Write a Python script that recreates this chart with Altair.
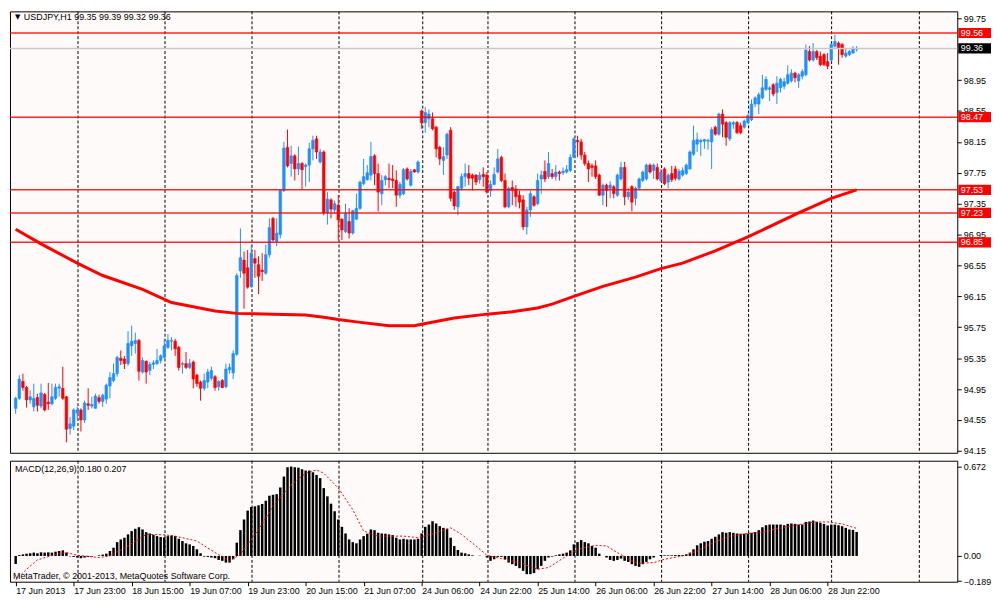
import altair as alt
import pandas as pd

# ---------------- data ----------------
opens = [94.70, 94.83, 95.05, 94.97, 94.81, 94.72, 94.84, 94.73, 94.88, 94.78,
         94.76, 94.83, 94.96, 94.96, 94.85, 94.44, 94.47, 94.64, 94.68, 94.55,
         94.76, 94.73, 94.70, 94.84, 94.79, 94.82, 94.99, 95.06, 95.15, 95.35,
         95.34, 95.28, 95.51, 95.54, 95.58, 95.17, 95.31, 95.19, 95.27, 95.28,
         95.32, 95.36, 95.49, 95.57, 95.57, 95.49, 95.27, 95.28, 95.23, 95.30,
         95.13, 95.04, 94.96, 95.04, 95.09, 95.11, 94.98, 95.06, 94.98, 95.20,
         95.16, 95.40, 96.48, 96.62, 96.52, 96.28, 96.64, 96.56, 96.49, 96.45,
         96.69, 97.16, 96.86, 96.95, 97.52, 98.08, 97.87, 97.97, 97.80, 97.87,
         97.83, 97.85, 98.06, 98.19, 97.89, 98.02, 97.23, 97.40, 97.27, 97.33,
         97.15, 96.99, 97.12, 96.97, 97.15, 97.29, 97.61, 97.66, 97.72, 97.97,
         97.74, 97.48, 97.66, 97.68, 97.67, 97.65, 97.46, 97.48, 97.80, 97.59,
         97.79, 97.76, 98.55, 98.40, 98.45, 98.45, 98.34, 98.08, 97.91, 97.98,
         98.30, 97.50, 97.31, 97.55, 97.70, 97.74, 97.72, 97.72, 97.66, 97.73,
         97.72, 97.52, 97.60, 97.76, 97.95, 97.65, 97.31, 97.56, 97.54, 97.46,
         97.40, 97.05, 97.27, 97.44, 97.35, 97.67, 97.77, 97.70, 97.74, 97.70,
         97.76, 97.75, 97.76, 97.78, 97.95, 98.17, 98.15, 97.98, 97.87, 97.84,
         97.84, 97.72, 97.46, 97.59, 97.55, 97.57, 97.46, 97.67, 97.82, 97.44,
         97.57, 97.42, 97.55, 97.65, 97.67, 97.85, 97.78, 97.82, 97.65, 97.80,
         97.63, 97.74, 97.80, 97.67, 97.72, 97.74, 97.80, 97.99, 98.12, 98.15,
         98.16, 98.16, 98.15, 98.34, 98.25, 98.51, 98.40, 98.19, 98.38, 98.40,
         98.36, 98.34, 98.40, 98.44, 98.64, 98.64, 98.72, 98.83, 98.83, 98.89,
         98.79, 98.85, 98.87, 98.91, 98.94, 99.04, 98.94, 99.00, 99.02, 99.32,
         99.21, 99.32, 99.26, 99.28, 99.19, 99.21, 99.39, 99.43, 99.41, 99.26,
         99.28, 99.30, 99.35]

highs = [94.85, 95.13, 95.15, 94.99, 94.93, 95.02, 94.89, 95.02, 94.90, 95.03,
         95.02, 95.02, 95.02, 95.24, 94.86, 94.59, 94.70, 94.72, 94.70, 94.80,
         94.96, 94.85, 94.89, 94.88, 94.89, 95.02, 95.17, 95.28, 95.38, 95.45,
         95.38, 95.70, 95.77, 95.68, 95.60, 95.36, 95.32, 95.30, 95.32, 95.47,
         95.40, 95.60, 95.66, 95.62, 95.60, 95.51, 95.30, 95.43, 95.34, 95.32,
         95.15, 95.06, 95.15, 95.21, 95.24, 95.13, 95.06, 95.08, 95.28, 95.28,
         95.45, 96.45, 97.03, 96.73, 96.75, 96.82, 96.75, 96.67, 96.71, 96.82,
         97.16, 97.18, 97.16, 97.54, 98.15, 98.31, 98.10, 97.99, 98.09, 97.89,
         97.87, 98.14, 98.23, 98.23, 98.06, 98.04, 97.50, 97.42, 97.39, 97.46,
         97.16, 97.35, 97.29, 97.27, 97.48, 97.65, 97.93, 97.85, 98.15, 97.99,
         97.87, 97.72, 97.72, 97.87, 97.85, 97.78, 97.63, 97.81, 97.82, 97.80,
         97.80, 97.91, 98.57, 98.60, 98.57, 98.53, 98.36, 98.10, 98.08, 98.27,
         98.34, 97.52, 97.58, 97.74, 97.87, 97.85, 97.74, 97.73, 97.76, 97.82,
         97.76, 97.65, 97.82, 98.06, 97.97, 97.74, 97.57, 97.65, 97.59, 97.52,
         97.46, 97.31, 97.52, 97.46, 97.74, 97.78, 97.91, 98.02, 97.80, 97.85,
         97.78, 97.82, 97.85, 97.99, 98.21, 98.23, 98.19, 98.02, 97.91, 97.87,
         97.91, 97.74, 97.61, 97.61, 97.64, 97.59, 97.74, 97.89, 97.89, 97.55,
         97.59, 97.57, 97.69, 97.78, 97.87, 97.87, 97.87, 97.87, 97.80, 97.82,
         97.74, 97.84, 97.84, 97.80, 97.82, 97.87, 98.04, 98.36, 98.27, 98.19,
         98.19, 98.19, 98.34, 98.36, 98.53, 98.57, 98.42, 98.42, 98.42, 98.42,
         98.40, 98.44, 98.51, 98.70, 98.74, 98.79, 99.02, 99.00, 98.87, 98.91,
         99.00, 98.98, 98.98, 99.14, 99.09, 99.06, 99.04, 99.09, 99.41, 99.39,
         99.43, 99.34, 99.32, 99.30, 99.30, 99.43, 99.54, 99.45, 99.43, 99.36,
         99.34, 99.39, 99.39]

lows = [94.63, 94.81, 94.93, 94.71, 94.76, 94.66, 94.66, 94.70, 94.66, 94.68,
        94.74, 94.81, 94.85, 94.81, 94.26, 94.36, 94.42, 94.55, 94.40, 94.51,
        94.68, 94.70, 94.70, 94.76, 94.72, 94.76, 94.83, 95.04, 95.11, 95.26,
        95.21, 95.25, 95.38, 95.41, 95.06, 95.15, 95.02, 95.13, 95.21, 95.26,
        95.28, 95.34, 95.47, 95.45, 95.38, 95.19, 95.15, 95.21, 95.21, 94.96,
        94.98, 94.80, 94.93, 94.96, 95.06, 94.93, 94.93, 94.96, 94.96, 95.15,
        95.08, 95.38, 96.39, 95.99, 96.25, 96.26, 96.39, 96.18, 96.35, 96.43,
        96.65, 96.86, 96.80, 96.90, 97.50, 97.82, 97.70, 97.65, 97.72, 97.53,
        97.57, 97.63, 97.91, 97.93, 97.87, 97.20, 97.08, 97.16, 97.22, 96.88,
        96.88, 96.97, 96.90, 96.95, 97.14, 97.27, 97.59, 97.65, 97.65, 97.59,
        97.25, 97.33, 97.59, 97.55, 97.55, 97.31, 97.42, 97.46, 97.65, 97.57,
        97.75, 97.74, 98.32, 98.27, 98.34, 98.30, 97.95, 97.85, 97.72, 97.93,
        97.38, 97.27, 97.20, 97.52, 97.57, 97.59, 97.52, 97.59, 97.61, 97.57,
        97.48, 97.44, 97.59, 97.74, 97.63, 97.29, 97.29, 97.33, 97.31, 97.29,
        97.01, 96.95, 97.18, 97.31, 97.33, 97.48, 97.63, 97.67, 97.67, 97.65,
        97.65, 97.72, 97.74, 97.76, 97.94, 97.95, 97.92, 97.84, 97.63, 97.70,
        97.67, 97.45, 97.33, 97.31, 97.42, 97.42, 97.44, 97.65, 97.33, 97.40,
        97.25, 97.33, 97.53, 97.63, 97.65, 97.74, 97.67, 97.65, 97.63, 97.59,
        97.55, 97.63, 97.65, 97.65, 97.70, 97.72, 97.79, 97.97, 98.02, 97.97,
        98.06, 98.05, 97.80, 98.23, 98.23, 98.21, 98.10, 98.16, 98.32, 98.25,
        98.25, 98.32, 98.38, 98.42, 98.60, 98.51, 98.70, 98.81, 98.68, 98.74,
        98.64, 98.79, 98.83, 98.89, 98.92, 98.92, 98.85, 98.96, 99.00, 99.19,
        99.19, 99.21, 99.13, 99.13, 99.09, 99.19, 99.37, 99.15, 99.24, 99.24,
        99.26, 99.29, 99.32]

closes = [94.83, 95.08, 94.97, 94.81, 94.85, 94.83, 94.74, 94.90, 94.68, 94.76,
          94.85, 94.97, 94.98, 94.83, 94.43, 94.50, 94.68, 94.68, 94.55, 94.77,
          94.74, 94.75, 94.86, 94.79, 94.87, 95.00, 95.10, 95.15, 95.36, 95.32,
          95.28, 95.54, 95.57, 95.58, 95.18, 95.32, 95.17, 95.27, 95.29, 95.32,
          95.38, 95.51, 95.58, 95.58, 95.47, 95.23, 95.28, 95.23, 95.28, 95.08,
          95.02, 94.96, 95.06, 95.17, 95.19, 94.97, 95.05, 94.97, 95.21, 95.23,
          95.41, 96.42, 96.65, 96.45, 96.27, 96.71, 96.58, 96.41, 96.47, 96.69,
          97.04, 96.88, 96.97, 97.52, 98.07, 97.84, 97.97, 97.80, 97.87, 97.79,
          97.85, 98.06, 98.17, 98.02, 98.02, 97.23, 97.41, 97.28, 97.35, 97.14,
          97.01, 97.23, 96.97, 97.26, 97.29, 97.63, 97.70, 97.75, 97.96, 97.74,
          97.50, 97.65, 97.70, 97.66, 97.65, 97.46, 97.60, 97.79, 97.67, 97.77,
          97.76, 97.89, 98.40, 98.53, 98.51, 98.32, 98.06, 97.93, 97.96, 98.25,
          97.42, 97.32, 97.57, 97.70, 97.74, 97.68, 97.68, 97.63, 97.72, 97.70,
          97.50, 97.60, 97.73, 97.93, 97.65, 97.31, 97.55, 97.52, 97.44, 97.37,
          97.05, 97.27, 97.48, 97.33, 97.65, 97.72, 97.67, 97.87, 97.70, 97.76,
          97.74, 97.77, 97.79, 97.95, 98.19, 98.15, 97.98, 97.87, 97.80, 97.82,
          97.70, 97.46, 97.59, 97.52, 97.59, 97.48, 97.72, 97.82, 97.44, 97.50,
          97.37, 97.55, 97.67, 97.76, 97.85, 97.76, 97.85, 97.67, 97.76, 97.61,
          97.72, 97.66, 97.68, 97.77, 97.78, 97.85, 98.02, 98.17, 98.18, 98.17,
          98.18, 98.17, 98.31, 98.25, 98.51, 98.38, 98.21, 98.40, 98.40, 98.27,
          98.27, 98.42, 98.49, 98.64, 98.72, 98.76, 98.85, 98.96, 98.85, 98.77,
          98.91, 98.96, 98.93, 99.02, 99.04, 98.98, 99.02, 99.06, 99.34, 99.21,
          99.32, 99.24, 99.15, 99.15, 99.13, 99.41, 99.45, 99.36, 99.28, 99.30,
          99.32, 99.36, 99.36]

macd = [-0.060, 0.007, 0.012, 0.017, 0.020, 0.025, 0.020, 0.027, 0.025, 0.027,
        0.025, 0.032, 0.037, 0.042, 0.025, -0.003, -0.007, -0.012, -0.017, -0.012,
        -0.007, -0.005, 0.000, 0.005, 0.010, 0.017, 0.037, 0.062, 0.104, 0.124,
        0.137, 0.162, 0.187, 0.204, 0.216, 0.199, 0.179, 0.169, 0.159, 0.149,
        0.142, 0.139, 0.149, 0.154, 0.149, 0.129, 0.112, 0.095, 0.087, 0.075,
        0.050, 0.020, -0.005, -0.007, -0.012, -0.017, -0.030, -0.037, -0.050, -0.050,
        -0.025, 0.100, 0.194, 0.274, 0.341, 0.368, 0.373, 0.381, 0.391, 0.415,
        0.453, 0.460, 0.465, 0.515, 0.597, 0.667, 0.672, 0.667, 0.664, 0.652,
        0.642, 0.642, 0.629, 0.609, 0.585, 0.510, 0.448, 0.393, 0.336, 0.274,
        0.219, 0.169, 0.124, 0.104, 0.095, 0.124, 0.149, 0.167, 0.199, 0.194,
        0.174, 0.169, 0.167, 0.162, 0.157, 0.137, 0.124, 0.129, 0.124, 0.124,
        0.124, 0.129, 0.169, 0.219, 0.236, 0.261, 0.244, 0.224, 0.211, 0.204,
        0.137, 0.075, 0.045, 0.025, 0.020, 0.012, 0.005, 0.000, 0.002, 0.000,
        -0.012, -0.037, -0.025, -0.007, -0.007, -0.025, -0.050, -0.062, -0.075, -0.092,
        -0.112, -0.137, -0.137, -0.129, -0.100, -0.075, -0.037, -0.012, -0.005, 0.005,
        0.012, 0.017, 0.025, 0.042, 0.087, 0.104, 0.119, 0.104, 0.095, 0.075,
        0.062, 0.017, 0.000, -0.012, -0.030, -0.037, -0.030, -0.020, -0.037, -0.045,
        -0.062, -0.075, -0.082, -0.062, -0.045, -0.025, -0.012, 0.000, 0.007, 0.005,
        0.005, 0.005, 0.007, 0.007, 0.007, 0.012, 0.025, 0.050, 0.080, 0.095,
        0.107, 0.112, 0.129, 0.144, 0.162, 0.179, 0.174, 0.179, 0.174, 0.169,
        0.167, 0.167, 0.169, 0.174, 0.179, 0.194, 0.216, 0.231, 0.236, 0.236,
        0.236, 0.236, 0.231, 0.241, 0.244, 0.241, 0.236, 0.236, 0.256, 0.259,
        0.266, 0.256, 0.249, 0.241, 0.229, 0.236, 0.236, 0.231, 0.224, 0.211,
        0.199, 0.196, 0.180]

sig_idx = [0, 3, 6, 11, 14, 17, 23, 26, 31, 36, 41, 44, 50, 55, 59, 62, 67, 71, 76, 80,
           83, 85, 89, 93, 96, 100, 107, 111, 116, 120, 123, 127, 130, 134, 139, 144, 147,
           152, 155, 160, 163, 166, 170, 172, 176, 179, 184, 188, 192, 197, 202, 206, 210,
           215, 220, 224, 228, 232]
sig_val = [-0.180, -0.100, -0.030, 0.012, 0.025, 0.005, -0.012, 0.000, 0.075, 0.162,
           0.159, 0.149, 0.112, 0.025, -0.037, 0.012, 0.199, 0.373, 0.535, 0.622,
           0.647, 0.622, 0.510, 0.348, 0.187, 0.149, 0.149, 0.137, 0.174, 0.211,
           0.162, 0.075, 0.005, -0.020, -0.050, -0.100, -0.087, 0.000, 0.050, 0.080,
           0.075, 0.025, -0.037, -0.055, -0.050, -0.025, 0.000, 0.037, 0.095, 0.149,
           0.169, 0.179, 0.204, 0.231, 0.254, 0.256, 0.241, 0.207]

ma_idx = [0, 7, 17, 24, 35, 43, 55, 61, 71, 80, 85, 89, 94, 103, 110, 112, 121, 130,
          137, 144, 148, 154, 162, 171, 178, 184, 193, 202, 216, 225, 232]
ma_val = [97.02, 96.83, 96.58, 96.42, 96.24, 96.07, 95.96, 95.93, 95.92, 95.91, 95.88,
          95.85, 95.82, 95.77, 95.77, 95.79, 95.87, 95.92, 95.95, 96.00, 96.05, 96.15,
          96.28, 96.40, 96.51, 96.58, 96.74, 96.92, 97.23, 97.42, 97.53]

levels = [99.56, 98.47, 97.53, 97.23, 96.85]
bid = [99.36]
grid_idx = [17.2, 41.2, 65.2, 89.2, 112.3, 130.3, 154.3, 178.2, 202.2, 225.1, 249.3]
date_idx = [0, 16, 32, 48, 64, 80, 96, 112, 128, 144, 160, 176, 192, 208, 224]
date_labels = ["17 Jun 2013", "17 Jun 23:00", "18 Jun 15:00", "19 Jun 07:00", "19 Jun 23:00",
               "20 Jun 15:00", "21 Jun 07:00", "24 Jun 06:00", "24 Jun 22:00", "25 Jun 14:00",
               "26 Jun 06:00", "26 Jun 22:00", "27 Jun 14:00", "28 Jun 06:00", "28 Jun 22:00"]
# 99.35 sits fully under the 99.36 price box in the reference, so it is not shown
price_ticks = [94.15, 94.55, 94.95, 95.35, 95.75, 96.15, 96.55, 96.95, 97.35, 97.75,
               98.15, 98.55, 98.95, 99.75]
macd_ticks = [-0.189, 0.0, 0.672]
title_str = "USDJPY,H1  99.35 99.39 99.32 99.36"
macd_str = "MACD(12,26,9) 0.180 0.207"
copy_str = "MetaTrader, \u00a9 2001-2013, MetaQuotes Software Corp."

# ---------------- chart ----------------
n = len(closes)
df = pd.DataFrame({"i": list(range(n)), "o": opens, "h": highs, "l": lows,
                   "c": closes, "m": macd})
df["dir"] = ["up" if c >= o else "down" for o, c in zip(opens, closes)]
grid_df = pd.DataFrame({"g": grid_idx})
sig_df = pd.DataFrame({"i": sig_idx, "v": sig_val})
ma_df = pd.DataFrame({"i": ma_idx, "v": ma_val})
lev_df = pd.DataFrame({"p": levels, "lab": [f"{v:.2f}" for v in levels]})
bid_df = pd.DataFrame({"p": bid, "lab": [f"{v:.2f}" for v in bid]})

BLUE = "#1e90ff"
RED = "#ff0000"
FONT = "Liberation Sans"
W, H1, H2 = 955, 445, 122

xs = alt.Scale(domain=[-0.2, 258.4], nice=False, zero=False)
ys = alt.Scale(domain=[94.125, 99.84], nice=False, zero=False)
ms = alt.Scale(domain=[-0.194, 0.716], nice=False, zero=False)
dir_scale = alt.Scale(domain=["up", "down"], range=[BLUE, RED])

yax = alt.Axis(orient="right", values=price_ticks, format=".2f", title=None, grid=False,
               domain=False, tickSize=4, tickColor="black", labelColor="black",
               labelFont=FONT, labelFontSize=9, labelPadding=2, labelOverlap=False,
               labelBound=False, labelFlush=False, zindex=0)
expr_arr = "[" + ",".join("'" + s + "'" for s in date_labels) + "]"
xax = alt.Axis(orient="bottom", values=date_idx, labelExpr=expr_arr + "[round(datum.value / 16)]",
               title=None, grid=False, domain=False, tickSize=4, tickColor="black",
               labelAlign="left", labelBaseline="top", labelPadding=1, labelFont=FONT,
               labelFontSize=9, labelColor="black", labelFlush=False, labelOverlap=False,
               labelBound=False, zindex=0)
max_ = alt.Axis(orient="right", values=macd_ticks, title=None, grid=False, domain=False,
                tickSize=4, tickColor="black", labelColor="black", labelFont=FONT,
                labelFontSize=9, labelPadding=2, labelOverlap=False, labelBound=False,
                labelFlush=False, zindex=0,
                labelExpr="datum.value == 0 ? '0.00' : format(datum.value, '.3f')")

XM = lambda f: alt.X(f, type="quantitative", scale=xs, axis=None)
YM = lambda f: alt.Y(f, type="quantitative", scale=ys, axis=yax)

grid_main = alt.Chart(grid_df).mark_rule(color="#000000", strokeDash=[3, 2], strokeWidth=1).encode(
    x=XM("g"))
wicks = alt.Chart(df).mark_rule(strokeWidth=1).encode(
    x=XM("i"), y=YM("l"), y2="h:Q", color=alt.Color("dir:N", scale=dir_scale, legend=None))
bodies = alt.Chart(df).mark_bar(size=2.6, strokeWidth=0.6).encode(
    x=XM("i"), y=YM("o"), y2="c:Q",
    color=alt.Color("dir:N", scale=dir_scale, legend=None),
    stroke=alt.Stroke("dir:N", scale=dir_scale, legend=None))
lev_lines = alt.Chart(lev_df).mark_rule(color=RED, strokeWidth=1.5, opacity=0.85).encode(y=YM("p"))
bid_line = alt.Chart(bid_df).mark_rule(color="#c8c8c8", strokeWidth=1.5).encode(y=YM("p"))
ma_line = alt.Chart(ma_df).mark_line(color=RED, strokeWidth=3).encode(x=XM("i"), y=YM("v"))

lev_box = alt.Chart(lev_df).transform_calculate(
    t="datum.p + 0.066", b="datum.p - 0.066").mark_rect(color=RED).encode(
    x=alt.value(956), x2=alt.value(989), y=YM("t"), y2="b:Q")
lev_txt = alt.Chart(lev_df).mark_text(align="left", baseline="middle", color="white",
                                      font=FONT, fontSize=9).encode(
    x=alt.value(958.5), y=YM("p"), text="lab:N")
bid_box = alt.Chart(bid_df).transform_calculate(
    t="datum.p + 0.066", b="datum.p - 0.066").mark_rect(color="black").encode(
    x=alt.value(956), x2=alt.value(989), y=YM("t"), y2="b:Q")
bid_txt = alt.Chart(bid_df).mark_text(align="left", baseline="middle", color="white",
                                      font=FONT, fontSize=9).encode(
    x=alt.value(958.5), y=YM("p"), text="lab:N")

tri = alt.Chart(pd.DataFrame({"t": ["\u25bc"]})).mark_text(
    align="left", baseline="middle", font="DejaVu Sans", fontSize=7, color="black").encode(
    x=alt.value(5), y=alt.value(6), text="t:N")
title_t = alt.Chart(pd.DataFrame({"t": [title_str]})).mark_text(
    align="left", baseline="middle", font=FONT, fontSize=9, color="black").encode(
    x=alt.value(14), y=alt.value(6), text="t:N")

main = alt.layer(grid_main, wicks, bodies, lev_lines, bid_line, ma_line,
                 lev_box, lev_txt, bid_box, bid_txt, tri, title_t).properties(width=W, height=H1)

XB = lambda f: alt.X(f, type="quantitative", scale=xs, axis=xax)
YB = lambda f: alt.Y(f, type="quantitative", scale=ms, axis=max_)

grid_sub = alt.Chart(grid_df).mark_rule(color="#000000", strokeDash=[3, 2], strokeWidth=1).encode(
    x=XB("g"))
mbars = alt.Chart(df).mark_bar(size=2.5, color="black").encode(
    x=XB("i"), y=YB("m"), y2=alt.datum(0))
sig_line = alt.Chart(sig_df).mark_line(color=RED, strokeDash=[2, 2], strokeWidth=1).encode(
    x=XB("i"), y=YB("v"))
macd_t = alt.Chart(pd.DataFrame({"t": [macd_str]})).mark_text(
    align="left", baseline="middle", font=FONT, fontSize=9, color="black").encode(
    x=alt.value(5), y=alt.value(8), text="t:N")
copy_t = alt.Chart(pd.DataFrame({"t": [copy_str]})).mark_text(
    align="left", baseline="middle", font=FONT, fontSize=9, color="black").encode(
    x=alt.value(3), y=alt.value(H2 - 6), text="t:N")

sub = alt.layer(grid_sub, mbars, sig_line, macd_t, copy_t).properties(width=W, height=H2)

chart = alt.vconcat(main, sub, spacing=3).properties(
    padding={"left": 0, "top": 0, "right": 0, "bottom": 0}
).configure(background="white", font=FONT).configure_view(
    stroke="black", strokeWidth=1, fill="#fffafa")

chart.save("out.html", embed_options={"renderer": "svg", "actions": False})
